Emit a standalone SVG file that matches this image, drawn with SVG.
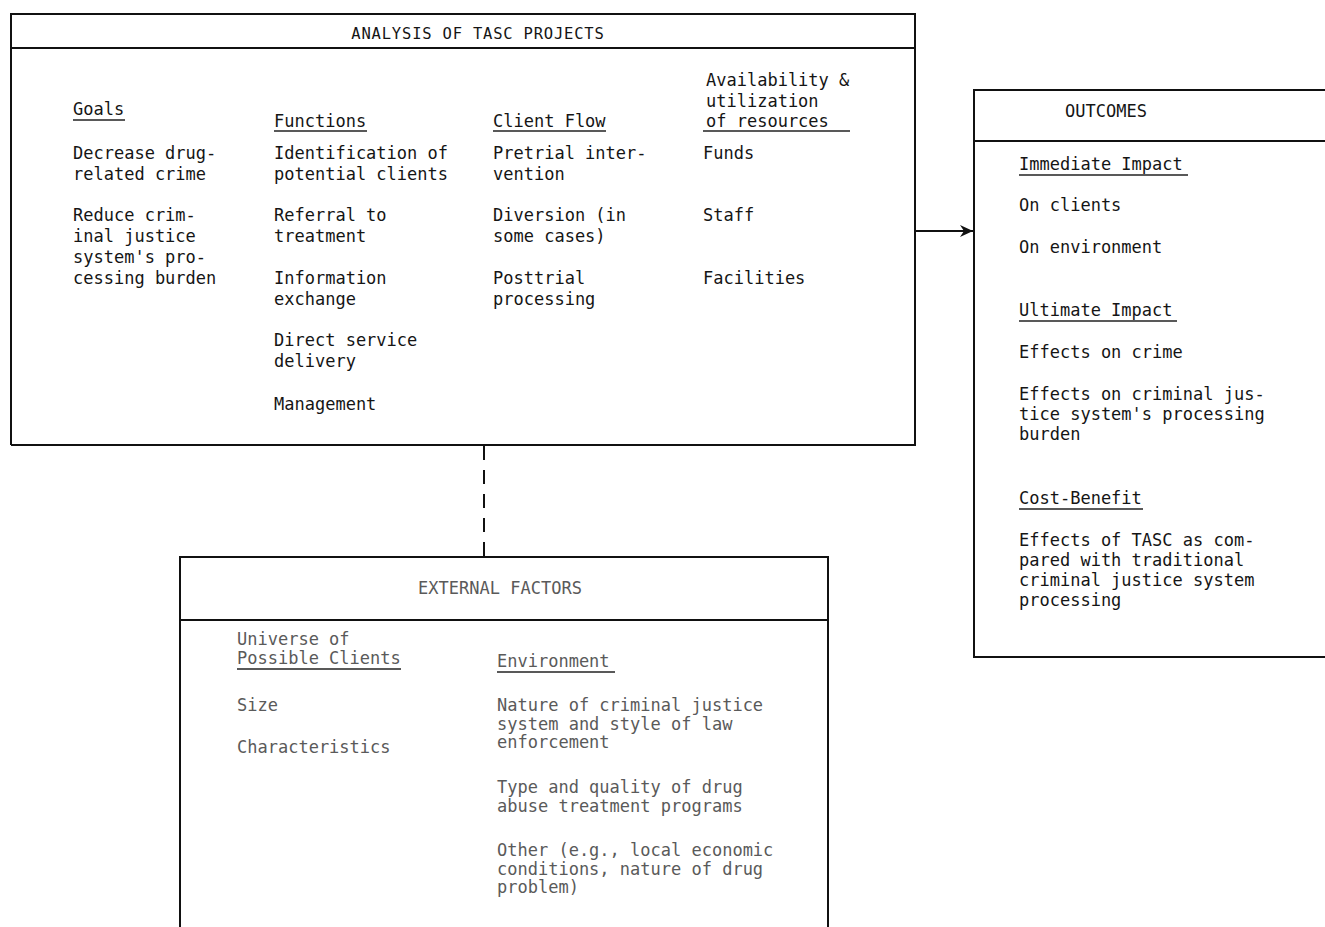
<svg xmlns="http://www.w3.org/2000/svg" width="1325" height="927" viewBox="0 0 1325 927">
<defs>
<style>
.t{font-family:"DejaVu Sans Mono","Liberation Mono",monospace;font-size:17px;letter-spacing:0px;fill:#151515}
.f{fill:#5a5a5a}
.frame{fill:none;stroke:#111;stroke-width:2}
.ul{stroke:#222;stroke-width:1.5}
.conn{fill:none;stroke:#111;stroke-width:2}
</style>
<marker id="ah" markerWidth="14" markerHeight="12" refX="13" refY="6" orient="auto" markerUnits="userSpaceOnUse">
<path d="M0,0 L13,6 L0,12 L4,6 Z" fill="#111"/>
</marker>
</defs>
<rect width="1325" height="927" fill="#fff"/>

<g id="analysis">
<path class="frame" d="M11,445 V14 H915 V445 H11"/>
<line class="frame" x1="11" y1="48" x2="915" y2="48"/>
<text class="t" x="478" y="39" text-anchor="middle" style="font-size:15.5px;letter-spacing:0.8px">ANALYSIS OF TASC PROJECTS</text>
<text class="t" x="73" y="115">Goals</text>
<line class="ul" x1="73" y1="120" x2="125" y2="120"/>
<text class="t" x="274" y="127">Functions</text>
<line class="ul" x1="274" y1="131" x2="367" y2="131"/>
<text class="t" x="493" y="127">Client Flow</text>
<line class="ul" x1="493" y1="131" x2="606" y2="131"/>
<text class="t" x="706" y="86">Availability &amp;</text>
<text class="t" x="706" y="107">utilization</text>
<text class="t" x="706" y="127">of resources</text>
<line class="ul" x1="703" y1="131" x2="850" y2="131"/>
<text class="t" x="73" y="159">Decrease drug-</text>
<text class="t" x="73" y="180">related crime</text>
<text class="t" x="73" y="221">Reduce crim-</text>
<text class="t" x="73" y="242">inal justice</text>
<text class="t" x="73" y="263">system's pro-</text>
<text class="t" x="73" y="284">cessing burden</text>
<text class="t" x="274" y="159">Identification of</text>
<text class="t" x="274" y="180">potential clients</text>
<text class="t" x="274" y="221">Referral to</text>
<text class="t" x="274" y="242">treatment</text>
<text class="t" x="274" y="284">Information</text>
<text class="t" x="274" y="305">exchange</text>
<text class="t" x="274" y="346">Direct service</text>
<text class="t" x="274" y="367">delivery</text>
<text class="t" x="274" y="410">Management</text>
<text class="t" x="493" y="159">Pretrial inter-</text>
<text class="t" x="493" y="180">vention</text>
<text class="t" x="493" y="221">Diversion (in</text>
<text class="t" x="493" y="242">some cases)</text>
<text class="t" x="493" y="284">Posttrial</text>
<text class="t" x="493" y="305">processing</text>
<text class="t" x="703" y="159">Funds</text>
<text class="t" x="703" y="221">Staff</text>
<text class="t" x="703" y="284">Facilities</text>
</g>

<g id="outcomes">
<path class="frame" d="M1325,90 H974 V657 H1325"/>
<line class="frame" x1="974" y1="141" x2="1325" y2="141"/>
<text class="t" x="1106" y="117" text-anchor="middle">OUTCOMES</text>
<text class="t" x="1019" y="170">Immediate Impact</text>
<line class="ul" x1="1019" y1="175" x2="1188" y2="175"/>
<text class="t" x="1019" y="211">On clients</text>
<text class="t" x="1019" y="253">On environment</text>
<text class="t" x="1019" y="316">Ultimate Impact</text>
<line class="ul" x1="1019" y1="321" x2="1177" y2="321"/>
<text class="t" x="1019" y="358">Effects on crime</text>
<text class="t" x="1019" y="400">Effects on criminal jus-</text>
<text class="t" x="1019" y="420">tice system's processing</text>
<text class="t" x="1019" y="440">burden</text>
<text class="t" x="1019" y="504">Cost-Benefit</text>
<line class="ul" x1="1019" y1="509" x2="1143" y2="509"/>
<text class="t" x="1019" y="546">Effects of TASC as com-</text>
<text class="t" x="1019" y="566">pared with traditional</text>
<text class="t" x="1019" y="586">criminal justice system</text>
<text class="t" x="1019" y="606">processing</text>
</g>

<g id="external">
<path class="frame" d="M180,927 V557 H828 V927"/>
<line class="frame" x1="180" y1="620" x2="828" y2="620"/>
<text class="t f" x="500" y="594" text-anchor="middle">EXTERNAL FACTORS</text>
<text class="t f" x="237" y="645">Universe of</text>
<text class="t f" x="237" y="664">Possible Clients</text>
<line class="ul" x1="237" y1="669" x2="401" y2="669" stroke="#555"/>
<text class="t f" x="497" y="667">Environment</text>
<line class="ul" x1="497" y1="672" x2="615" y2="672" stroke="#555"/>
<text class="t f" x="237" y="711">Size</text>
<text class="t f" x="237" y="753">Characteristics</text>
<text class="t f" x="497" y="711">Nature of criminal justice</text>
<text class="t f" x="497" y="730">system and style of law</text>
<text class="t f" x="497" y="748">enforcement</text>
<text class="t f" x="497" y="793">Type and quality of drug</text>
<text class="t f" x="497" y="812">abuse treatment programs</text>
<text class="t f" x="497" y="856">Other (e.g., local economic</text>
<text class="t f" x="497" y="875">conditions, nature of drug</text>
<text class="t f" x="497" y="893">problem)</text>
</g>

<g id="connectors">
<line class="conn" x1="915" y1="231" x2="973" y2="231" marker-end="url(#ah)"/>
<line class="conn" x1="484" y1="446" x2="484" y2="557" stroke-dasharray="14 10"/>
</g>
</svg>
